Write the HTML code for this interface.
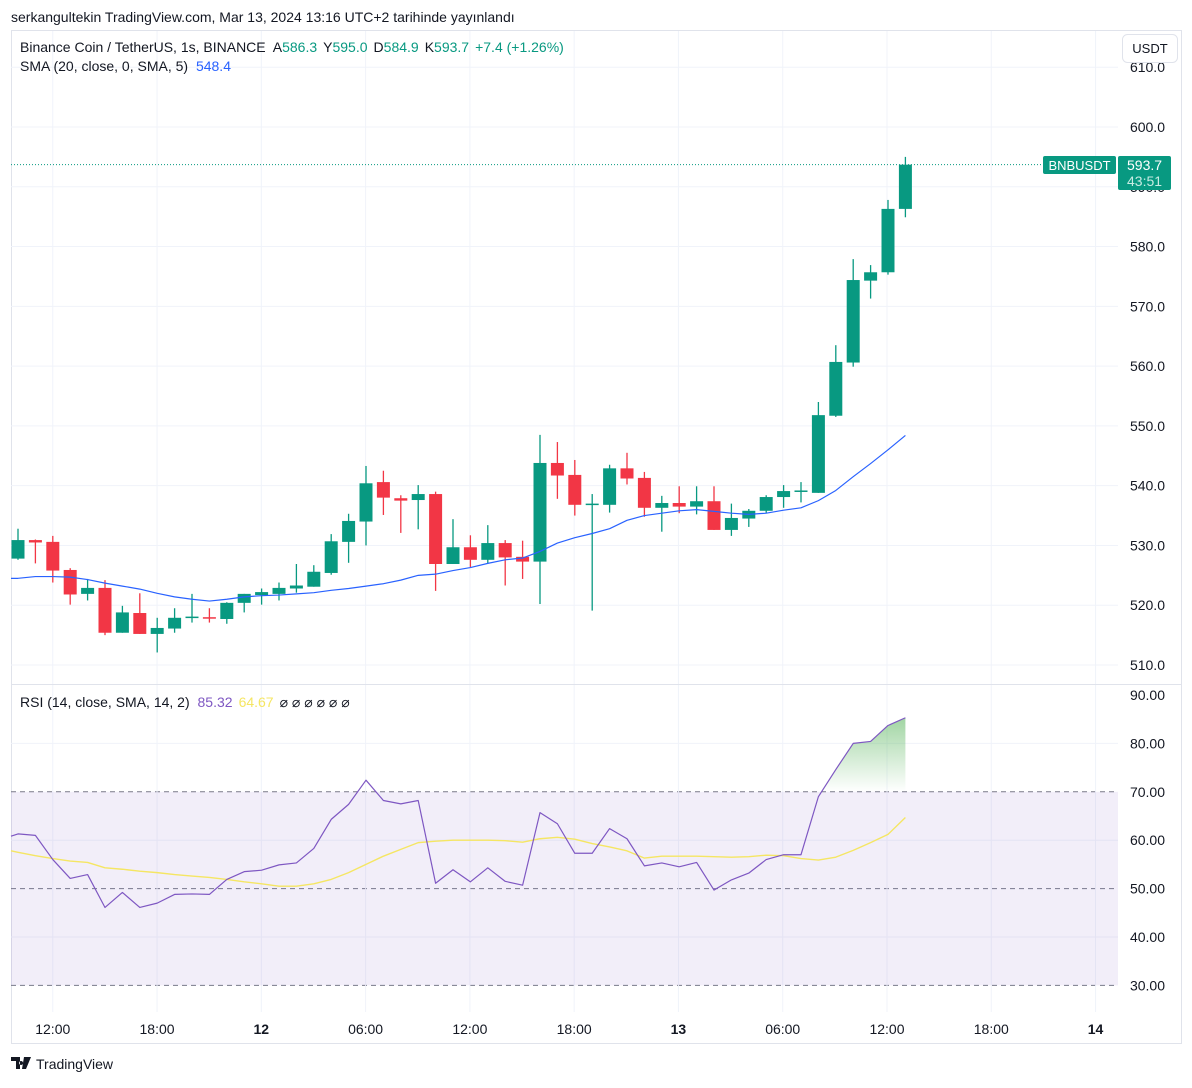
<!DOCTYPE html>
<html><head><meta charset="utf-8"><style>
html,body{margin:0;padding:0;background:#fff;}
body{width:1192px;height:1083px;overflow:hidden;font-family:"Liberation Sans",sans-serif;}
svg text{font-family:"Liberation Sans",sans-serif;}
</style></head><body>
<svg id="chart" width="1192" height="1083" viewBox="0 0 1192 1083" xmlns="http://www.w3.org/2000/svg">
<text x="11" y="22" font-size="14" fill="#131722">serkangultekin TradingView.com, Mar 13, 2024 13:16 UTC+2 tarihinde yayınlandı</text>
<rect x="11.5" y="30.5" width="1170" height="1013" fill="none" stroke="#e0e3eb"/>
<g id="grid"></g>
<rect id="band" x="11" width="1107" fill="#7e57c2" fill-opacity="0.1"/>
<line x1="11" x2="1181" y1="684.5" y2="684.5" stroke="#e0e3eb"/>
<g id="priceAxis"></g>
<g id="rsiAxis"></g>
<g id="timeAxis"></g>
<g id="marks"></g>
<line id="lastLine" x1="11" x2="1118" stroke="#089981" stroke-dasharray="1,2"/>
<g font-size="14">
<text x="20" y="52" fill="#131722">Binance Coin / TetherUS, 1s, BINANCE <tspan dx="4">A</tspan><tspan fill="#089981">586.3</tspan><tspan dx="6">Y</tspan><tspan fill="#089981">595.0</tspan><tspan dx="6">D</tspan><tspan fill="#089981">584.9</tspan><tspan dx="6">K</tspan><tspan fill="#089981">593.7</tspan><tspan dx="6" fill="#089981">+7.4 (+1.26%)</tspan></text>
<text x="20" y="71" fill="#131722">SMA (20, close, 0, SMA, 5) <tspan dx="4" fill="#2962ff">548.4</tspan></text>
<text x="20" y="707" fill="#131722">RSI (14, close, SMA, 14, 2) <tspan dx="4" fill="#7e57c2">85.32</tspan><tspan dx="6" fill="#f5e663">64.67</tspan><tspan dx="6">⌀ ⌀ ⌀ ⌀ ⌀ ⌀</tspan></text>
</g>
<g>
<rect x="1122.5" y="34.5" width="55" height="28" rx="5" fill="#fff" stroke="#e0e3eb"/>
<text x="1150" y="53" font-size="13" text-anchor="middle" fill="#131722">USDT</text>
</g>
<g>
<rect x="1043" y="156" width="73" height="18" rx="2" fill="#089981"/>
<text x="1079.5" y="170" font-size="13" text-anchor="middle" fill="#fff">BNBUSDT</text>
<rect x="1118" y="156" width="53" height="34" rx="2" fill="#089981"/>
<text x="1127" y="170" font-size="14" fill="#fff">593.7</text>
<text x="1127" y="186" font-size="14" fill="#c8ece3">43:51</text>
</g>
<g>
<path d="M11 1057h9v12h-4v-8h-5z M21 1061a2 2 0 1 0 0.1 0z M24 1057h7l-5 12h-4z" fill="#131722"/>
<text x="36" y="1069" font-size="14" fill="#131722">TradingView</text>
</g>
</svg>
<script>
const opens=[527.8,530.9,530.6,525.9,521.9,522.9,515.4,518.7,515.2,516.1,518.0,518.0,517.7,520.4,521.7,521.9,522.8,523.1,525.4,530.6,534.0,540.6,537.9,537.6,538.6,526.9,529.7,527.6,530.4,528.1,527.3,543.8,541.8,536.9,536.8,542.9,541.3,536.3,537.1,536.5,537.4,532.6,534.5,535.8,538.1,539.1,538.8,551.7,560.6,574.3,575.7,586.3];
const highs=[532.8,531.0,531.6,526.2,524.4,524.2,519.9,522.0,517.9,519.5,521.9,519.5,520.5,521.9,522.8,523.8,526.9,526.7,531.9,535.3,543.3,542.5,538.4,540.1,539.0,534.4,531.7,533.4,530.9,530.8,548.5,547.3,544.3,538.6,543.5,545.5,542.3,538.3,539.9,539.9,539.9,537.0,536.1,538.4,540.1,540.6,554.0,563.5,577.9,576.9,587.8,595.0];
const lows=[527.6,527.0,523.8,520.1,520.8,515.0,515.4,515.2,512.1,515.4,517.1,517.1,516.9,518.8,520.1,520.8,522.1,523.1,525.1,527.1,530.0,535.1,532.1,532.7,522.4,526.9,526.4,527.0,523.3,524.4,520.2,537.8,535.0,519.1,535.5,540.2,534.8,532.3,535.4,535.2,532.6,531.6,533.1,535.4,536.3,537.2,538.8,551.5,559.9,571.3,575.3,584.9];
const closes=[530.9,530.5,525.8,521.8,522.9,515.4,518.8,515.2,516.2,517.9,518.1,517.8,520.4,521.9,522.2,522.9,523.3,525.6,530.7,534.1,540.4,538.0,537.5,538.6,526.9,529.7,527.6,530.4,528.0,527.3,543.8,541.7,536.8,537.0,542.9,541.2,536.3,537.1,536.5,537.4,532.6,534.6,535.8,538.1,539.1,539.2,551.8,560.7,574.4,575.7,586.3,593.7];
const smaValues=[524.5,524.8,524.8,524.7,524.3,523.7,523.2,522.7,522.0,521.4,521.0,520.7,521.0,521.4,521.6,521.7,521.9,522.1,522.5,522.8,523.2,523.6,524.2,525.0,525.2,525.8,526.3,527.0,527.6,527.9,529.0,530.4,531.3,532.0,532.8,534.2,535.0,535.4,535.8,536.0,535.7,535.4,535.2,535.4,535.9,536.3,537.5,539.2,541.5,543.7,546.0,548.4];
const rsiValues=[61.3,61.0,56.0,52.1,52.9,46.1,49.2,46.1,47.0,48.8,48.9,48.8,51.9,53.5,53.8,54.9,55.3,58.3,64.3,67.4,72.4,68.2,67.5,68.2,51.1,53.9,51.4,54.3,51.5,50.7,65.7,63.4,57.3,57.3,62.4,60.3,54.7,55.3,54.5,55.4,49.7,51.8,53.2,56.0,57.0,57.0,69.0,74.6,80.0,80.4,83.7,85.3];
const rsiMaValues=[57.5,56.8,56.2,55.7,55.4,54.3,54.0,53.6,53.3,52.9,52.6,52.3,51.9,51.4,51.0,50.5,50.5,51.0,51.9,53.3,55.0,56.7,58.1,59.5,59.8,60.0,60.0,60.0,59.9,59.6,60.3,60.6,60.2,59.3,58.6,57.8,56.3,56.7,56.7,56.7,56.6,56.5,56.6,56.9,56.8,56.2,55.9,56.5,57.9,59.5,61.2,64.7];
const rsiPrev=60.5, rsiMaPrev=58.0;
const priceTicks=[610,600,590,580,570,560,550,540,530,520,510];
const rsiTicks=[90,80,70,60,50,40,30];
const timeLabels=["12:00","18:00","12","06:00","12:00","18:00","13","06:00","12:00","18:00","14"];
const timeLabelIdx=[2,8,14,20,26,32,38,44,50,56,62];
const boldLabels=["12","13","14"];

const NS="http://www.w3.org/2000/svg";
const xOf=i=>18+i*17.4;
const yP=p=>127+(600-p)*5.978;
const yR=v=>695+(90-v)*4.84;
function mk(tag,attrs,parent){const e=document.createElementNS(NS,tag);for(const k in attrs)e.setAttribute(k,attrs[k]);parent.appendChild(e);return e;}
const grid=document.getElementById('grid'),marks=document.getElementById('marks');
const pa=document.getElementById('priceAxis'),ra=document.getElementById('rsiAxis'),ta=document.getElementById('timeAxis');
const band=document.getElementById('band');
band.setAttribute('y',yR(70));band.setAttribute('height',yR(30)-yR(70));
priceTicks.forEach(t=>{const y=yP(t);
 const l=mk('line',{x1:11,x2:1118,y1:y,y2:y,stroke:'#f0f3fa'},grid);
 
 
 const tx=mk('text',{x:1165,y:y+5,'font-size':14,'text-anchor':'end',fill:'#131722'},pa);tx.textContent=t.toFixed(1);
 
 
});
rsiTicks.forEach(t=>{const y=yR(t);
 if(t===70||t===50||t===30){const l=mk('line',{x1:11,x2:1118,y1:y,y2:y,stroke:'#787b86','stroke-dasharray':'5,4','stroke-width':1},grid);
  
  }
 else if(t!==90){const l=mk('line',{x1:11,x2:1118,y1:y,y2:y,stroke:'#f0f3fa'},grid);
  
  }
 const tx=mk('text',{x:1165,y:y+5,'font-size':14,'text-anchor':'end',fill:'#131722'},ra);tx.textContent=t.toFixed(2);
 
 
});
timeLabels.forEach((lb,k)=>{const x=18+timeLabelIdx[k]*17.38;
 const l=mk('line',{x1:x,x2:x,y1:31,y2:1012,stroke:'#f0f3fa'},grid);
 
 
 const tx=mk('text',{x:x,y:1034,'font-size':14,'text-anchor':'middle',fill:'#131722','font-weight':boldLabels.includes(lb)?'bold':'normal'},ta);tx.textContent=lb;
 
 
});
(function(){let d='';const pts=[];for(let i=0;i<rsiValues.length;i++){pts.push([xOf(i),rsiValues[i]]);}
 let first=true;const defs=mk('defs',{},document.getElementById('chart'));
 const g=mk('linearGradient',{id:'gf',x1:0,y1:0,x2:0,y2:1},defs);
 mk('stop',{offset:'0','stop-color':'#4caf50','stop-opacity':'0.55'},g);mk('stop',{offset:'1','stop-color':'#4caf50','stop-opacity':'0'},g);
 g.setAttribute('gradientUnits','userSpaceOnUse');g.setAttribute('y1',yR(86));g.setAttribute('y2',yR(70));
 for(let i=1;i<pts.length;i++){const [x0,v0]=pts[i-1],[x1,v1]=pts[i];
  if(v0<70&&v1>70){const xc=x0+(x1-x0)*(70-v0)/(v1-v0);d+=`M${xc},${yR(70)} L${x1},${yR(v1)} `;first=false;}
  else if(v0>=70&&v1>=70){if(first){d+=`M${x0},${yR(70)} L${x0},${yR(v0)} `;first=false;}d+=`L${x1},${yR(v1)} `;}
 }
 const last=pts[pts.length-1];d+=`L${last[0]},${yR(70)} Z`;
 const f=mk('path',{d:d,fill:'url(#gf)'},marks);
 
 
})();
for(let i=0;i<opens.length;i++){const x=xOf(i),up=closes[i]>=opens[i],c=up?'#089981':'#f23645';
 const g=mk('g',{},marks);
 
 
 mk('line',{x1:x,x2:x,y1:yP(highs[i]),y2:yP(lows[i]),stroke:c,'stroke-width':1.3},g);
 const top=yP(Math.max(opens[i],closes[i])),bot=yP(Math.min(opens[i],closes[i]));
 mk('rect',{x:x-6.5,y:top,width:13,height:Math.max(1.5,bot-top),fill:c},g);
}
function line(vals,yf,color,name,prev,w){let d=prev!==undefined?`M11,${yf(prev+(vals[0]-prev)*(7/17.4))} L`:'M';
 d+=vals.map((v,i)=>`${xOf(i)},${yf(v)}`).join(' L');
 const p=mk('path',{d:d,fill:'none',stroke:color,'stroke-width':w||1.2,'stroke-linejoin':'round'},marks);
 
 }
line(smaValues,yP,'#2962ff','sma-line',smaValues[0]);
line(rsiMaValues,yR,'#f5e663','rsi-ma-line',rsiMaPrev,1.4);
line(rsiValues,yR,'#7e57c2','rsi-line',rsiPrev,1.2);
const ll=document.getElementById('lastLine');ll.setAttribute('y1',yP(closes[closes.length-1]));ll.setAttribute('y2',yP(closes[closes.length-1]));
</script>
</body></html>
